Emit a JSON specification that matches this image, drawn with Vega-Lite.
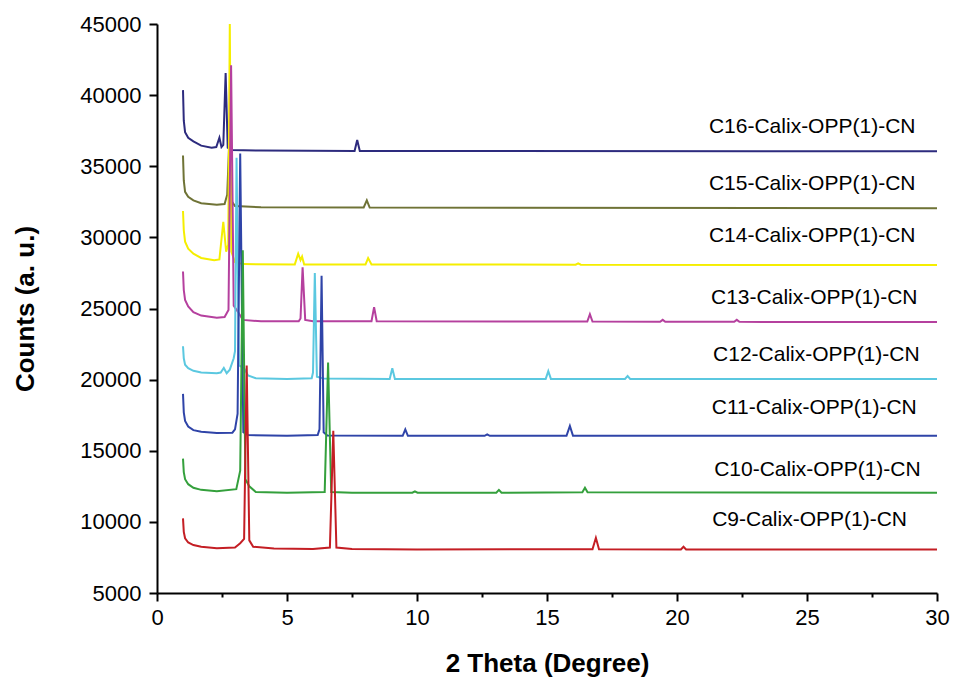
{
  "$schema": "https://vega.github.io/schema/vega-lite/v6.json",
  "width": 780,
  "height": 569,
  "autosize": {"type": "none"},
  "padding": {"left": 157, "top": 24, "right": 16, "bottom": 86},
  "background": "white",
  "datasets": {
    "curves": [
      {"s": "C16", "x": 1.0, "y": 40350}, {"s": "C16", "x": 1.03, "y": 38200}, {"s": "C16", "x": 1.08, "y": 37400}, {"s": "C16", "x": 1.2, "y": 37000}, {"s": "C16", "x": 1.4, "y": 36750}, {"s": "C16", "x": 1.7, "y": 36450}, {"s": "C16", "x": 2.1, "y": 36300}, {"s": "C16", "x": 2.28, "y": 36350}, {"s": "C16", "x": 2.4, "y": 37000}, {"s": "C16", "x": 2.48, "y": 36350}, {"s": "C16", "x": 2.55, "y": 36500}, {"s": "C16", "x": 2.64, "y": 41550}, {"s": "C16", "x": 2.72, "y": 36300}, {"s": "C16", "x": 2.85, "y": 36150}, {"s": "C16", "x": 4.0, "y": 36100}, {"s": "C16", "x": 7.6, "y": 36080}, {"s": "C16", "x": 7.7, "y": 36850}, {"s": "C16", "x": 7.8, "y": 36080}, {"s": "C16", "x": 30, "y": 36050},

      {"s": "C15", "x": 1.0, "y": 35750}, {"s": "C15", "x": 1.03, "y": 34000}, {"s": "C15", "x": 1.08, "y": 33200}, {"s": "C15", "x": 1.2, "y": 32850}, {"s": "C15", "x": 1.4, "y": 32600}, {"s": "C15", "x": 1.7, "y": 32400}, {"s": "C15", "x": 2.3, "y": 32300}, {"s": "C15", "x": 2.6, "y": 32350}, {"s": "C15", "x": 2.7, "y": 33000}, {"s": "C15", "x": 2.77, "y": 36300}, {"s": "C15", "x": 2.85, "y": 32600}, {"s": "C15", "x": 3.0, "y": 32200}, {"s": "C15", "x": 4.0, "y": 32120}, {"s": "C15", "x": 7.95, "y": 32100}, {"s": "C15", "x": 8.07, "y": 32600}, {"s": "C15", "x": 8.18, "y": 32100}, {"s": "C15", "x": 30, "y": 32050},

      {"s": "C14", "x": 1.0, "y": 31850}, {"s": "C14", "x": 1.03, "y": 30500}, {"s": "C14", "x": 1.08, "y": 29700}, {"s": "C14", "x": 1.2, "y": 29200}, {"s": "C14", "x": 1.4, "y": 28850}, {"s": "C14", "x": 1.7, "y": 28550}, {"s": "C14", "x": 2.2, "y": 28400}, {"s": "C14", "x": 2.4, "y": 28450}, {"s": "C14", "x": 2.55, "y": 31100}, {"s": "C14", "x": 2.66, "y": 29000}, {"s": "C14", "x": 2.74, "y": 29500}, {"s": "C14", "x": 2.8, "y": 45000}, {"s": "C14", "x": 2.86, "y": 29000}, {"s": "C14", "x": 3.0, "y": 28250}, {"s": "C14", "x": 3.3, "y": 28120}, {"s": "C14", "x": 5.3, "y": 28100}, {"s": "C14", "x": 5.43, "y": 28850}, {"s": "C14", "x": 5.52, "y": 28400}, {"s": "C14", "x": 5.58, "y": 28650}, {"s": "C14", "x": 5.66, "y": 28100}, {"s": "C14", "x": 8.02, "y": 28100}, {"s": "C14", "x": 8.12, "y": 28550}, {"s": "C14", "x": 8.25, "y": 28100}, {"s": "C14", "x": 16.1, "y": 28080}, {"s": "C14", "x": 16.2, "y": 28180}, {"s": "C14", "x": 16.3, "y": 28080}, {"s": "C14", "x": 30, "y": 28050},

      {"s": "C13", "x": 1.0, "y": 27600}, {"s": "C13", "x": 1.03, "y": 26300}, {"s": "C13", "x": 1.08, "y": 25600}, {"s": "C13", "x": 1.2, "y": 25150}, {"s": "C13", "x": 1.4, "y": 24750}, {"s": "C13", "x": 1.7, "y": 24500}, {"s": "C13", "x": 2.3, "y": 24350}, {"s": "C13", "x": 2.6, "y": 24400}, {"s": "C13", "x": 2.75, "y": 24900}, {"s": "C13", "x": 2.85, "y": 42100}, {"s": "C13", "x": 2.95, "y": 25200}, {"s": "C13", "x": 3.1, "y": 24800}, {"s": "C13", "x": 3.3, "y": 24200}, {"s": "C13", "x": 4.0, "y": 24100}, {"s": "C13", "x": 5.45, "y": 24100}, {"s": "C13", "x": 5.52, "y": 24300}, {"s": "C13", "x": 5.6, "y": 27900}, {"s": "C13", "x": 5.7, "y": 24200}, {"s": "C13", "x": 6.0, "y": 24100}, {"s": "C13", "x": 8.25, "y": 24100}, {"s": "C13", "x": 8.35, "y": 25100}, {"s": "C13", "x": 8.45, "y": 24100}, {"s": "C13", "x": 16.55, "y": 24080}, {"s": "C13", "x": 16.65, "y": 24600}, {"s": "C13", "x": 16.75, "y": 24080}, {"s": "C13", "x": 19.35, "y": 24060}, {"s": "C13", "x": 19.45, "y": 24200}, {"s": "C13", "x": 19.55, "y": 24060}, {"s": "C13", "x": 22.2, "y": 24060}, {"s": "C13", "x": 22.3, "y": 24200}, {"s": "C13", "x": 22.4, "y": 24060}, {"s": "C13", "x": 30, "y": 24050},

      {"s": "C12", "x": 1.0, "y": 22350}, {"s": "C12", "x": 1.03, "y": 21500}, {"s": "C12", "x": 1.08, "y": 21050}, {"s": "C12", "x": 1.2, "y": 20800}, {"s": "C12", "x": 1.4, "y": 20620}, {"s": "C12", "x": 1.7, "y": 20500}, {"s": "C12", "x": 2.3, "y": 20450}, {"s": "C12", "x": 2.45, "y": 20500}, {"s": "C12", "x": 2.57, "y": 20820}, {"s": "C12", "x": 2.68, "y": 20450}, {"s": "C12", "x": 2.8, "y": 20700}, {"s": "C12", "x": 2.95, "y": 21500}, {"s": "C12", "x": 3.0, "y": 22000}, {"s": "C12", "x": 3.06, "y": 35600}, {"s": "C12", "x": 3.15, "y": 21000}, {"s": "C12", "x": 3.35, "y": 20800}, {"s": "C12", "x": 3.5, "y": 20300}, {"s": "C12", "x": 3.8, "y": 20100}, {"s": "C12", "x": 5.0, "y": 20050}, {"s": "C12", "x": 5.95, "y": 20100}, {"s": "C12", "x": 6.0, "y": 20500}, {"s": "C12", "x": 6.07, "y": 27500}, {"s": "C12", "x": 6.15, "y": 20200}, {"s": "C12", "x": 6.4, "y": 20080}, {"s": "C12", "x": 8.95, "y": 20050}, {"s": "C12", "x": 9.05, "y": 20800}, {"s": "C12", "x": 9.15, "y": 20050}, {"s": "C12", "x": 14.95, "y": 20050}, {"s": "C12", "x": 15.05, "y": 20600}, {"s": "C12", "x": 15.15, "y": 20050}, {"s": "C12", "x": 18.0, "y": 20050}, {"s": "C12", "x": 18.1, "y": 20250}, {"s": "C12", "x": 18.2, "y": 20050}, {"s": "C12", "x": 30, "y": 20050},

      {"s": "C11", "x": 1.0, "y": 19000}, {"s": "C11", "x": 1.03, "y": 17700}, {"s": "C11", "x": 1.08, "y": 17100}, {"s": "C11", "x": 1.2, "y": 16700}, {"s": "C11", "x": 1.4, "y": 16450}, {"s": "C11", "x": 1.7, "y": 16330}, {"s": "C11", "x": 2.3, "y": 16250}, {"s": "C11", "x": 2.9, "y": 16270}, {"s": "C11", "x": 3.0, "y": 16500}, {"s": "C11", "x": 3.1, "y": 17600}, {"s": "C11", "x": 3.2, "y": 35900}, {"s": "C11", "x": 3.32, "y": 16300}, {"s": "C11", "x": 3.5, "y": 16100}, {"s": "C11", "x": 5.0, "y": 16050}, {"s": "C11", "x": 6.18, "y": 16100}, {"s": "C11", "x": 6.25, "y": 16500}, {"s": "C11", "x": 6.33, "y": 27300}, {"s": "C11", "x": 6.41, "y": 16300}, {"s": "C11", "x": 6.55, "y": 16080}, {"s": "C11", "x": 9.45, "y": 16050}, {"s": "C11", "x": 9.55, "y": 16500}, {"s": "C11", "x": 9.65, "y": 16050}, {"s": "C11", "x": 12.6, "y": 16050}, {"s": "C11", "x": 12.7, "y": 16150}, {"s": "C11", "x": 12.8, "y": 16050}, {"s": "C11", "x": 15.75, "y": 16050}, {"s": "C11", "x": 15.88, "y": 16750}, {"s": "C11", "x": 16.0, "y": 16050}, {"s": "C11", "x": 30, "y": 16050},

      {"s": "C10", "x": 1.0, "y": 14450}, {"s": "C10", "x": 1.03, "y": 13500}, {"s": "C10", "x": 1.08, "y": 13000}, {"s": "C10", "x": 1.2, "y": 12650}, {"s": "C10", "x": 1.4, "y": 12400}, {"s": "C10", "x": 1.7, "y": 12250}, {"s": "C10", "x": 2.3, "y": 12150}, {"s": "C10", "x": 3.05, "y": 12300}, {"s": "C10", "x": 3.2, "y": 13600}, {"s": "C10", "x": 3.3, "y": 29100}, {"s": "C10", "x": 3.4, "y": 13000}, {"s": "C10", "x": 3.55, "y": 12500}, {"s": "C10", "x": 3.8, "y": 12100}, {"s": "C10", "x": 5.0, "y": 12050}, {"s": "C10", "x": 6.45, "y": 12100}, {"s": "C10", "x": 6.58, "y": 21200}, {"s": "C10", "x": 6.7, "y": 12100}, {"s": "C10", "x": 7.5, "y": 12050}, {"s": "C10", "x": 9.82, "y": 12050}, {"s": "C10", "x": 9.92, "y": 12150}, {"s": "C10", "x": 10.02, "y": 12050}, {"s": "C10", "x": 13.05, "y": 12050}, {"s": "C10", "x": 13.15, "y": 12250}, {"s": "C10", "x": 13.25, "y": 12050}, {"s": "C10", "x": 16.36, "y": 12080}, {"s": "C10", "x": 16.46, "y": 12400}, {"s": "C10", "x": 16.56, "y": 12080}, {"s": "C10", "x": 30, "y": 12050},

      {"s": "C9", "x": 1.0, "y": 10250}, {"s": "C9", "x": 1.03, "y": 9300}, {"s": "C9", "x": 1.08, "y": 8850}, {"s": "C9", "x": 1.2, "y": 8550}, {"s": "C9", "x": 1.4, "y": 8370}, {"s": "C9", "x": 1.7, "y": 8250}, {"s": "C9", "x": 2.3, "y": 8150}, {"s": "C9", "x": 3.0, "y": 8200}, {"s": "C9", "x": 3.2, "y": 8500}, {"s": "C9", "x": 3.35, "y": 8800}, {"s": "C9", "x": 3.45, "y": 21000}, {"s": "C9", "x": 3.55, "y": 8700}, {"s": "C9", "x": 3.7, "y": 8250}, {"s": "C9", "x": 4.5, "y": 8120}, {"s": "C9", "x": 6.0, "y": 8100}, {"s": "C9", "x": 6.65, "y": 8200}, {"s": "C9", "x": 6.78, "y": 16400}, {"s": "C9", "x": 6.9, "y": 8200}, {"s": "C9", "x": 7.5, "y": 8100}, {"s": "C9", "x": 10.0, "y": 8060}, {"s": "C9", "x": 16.75, "y": 8080}, {"s": "C9", "x": 16.88, "y": 8880}, {"s": "C9", "x": 17.0, "y": 8080}, {"s": "C9", "x": 20.15, "y": 8060}, {"s": "C9", "x": 20.25, "y": 8250}, {"s": "C9", "x": 20.35, "y": 8060}, {"s": "C9", "x": 30, "y": 8050}
    ],
    "labels": [
      {"label": "C16-Calix-OPP(1)-CN", "x": 25.2, "y": 37760},
      {"label": "C15-Calix-OPP(1)-CN", "x": 25.2, "y": 33750},
      {"label": "C14-Calix-OPP(1)-CN", "x": 25.2, "y": 30100},
      {"label": "C13-Calix-OPP(1)-CN", "x": 25.28, "y": 25740},
      {"label": "C12-Calix-OPP(1)-CN", "x": 25.36, "y": 21730},
      {"label": "C11-Calix-OPP(1)-CN", "x": 25.28, "y": 18000},
      {"label": "C10-Calix-OPP(1)-CN", "x": 25.4, "y": 13650},
      {"label": "C9-Calix-OPP(1)-CN", "x": 25.1, "y": 10130}
    ]
  },
  "layer": [
    {
      "data": {"name": "curves"},
      "mark": {"type": "line", "strokeWidth": 2, "clip": true, "interpolate": "linear"},
      "encoding": {
        "x": {
          "field": "x", "type": "quantitative",
          "scale": {"domain": [0, 30], "nice": false, "zero": false},
          "axis": {
            "title": "2 Theta (Degree)",
            "values": [0, 2.5, 5, 7.5, 10, 12.5, 15, 17.5, 20, 22.5, 25, 27.5, 30],
            "labelExpr": "datum.value % 5 === 0 ? datum.label : ''",
            "tickSize": {"condition": {"test": "datum.value % 5 === 0", "value": 8}, "value": 4},
            "labelPadding": 6,
            "titlePadding": 22,
            "labelFlush": false,
            "labelOverlap": false
          }
        },
        "y": {
          "field": "y", "type": "quantitative",
          "scale": {"domain": [5000, 45000], "nice": false, "zero": false},
          "axis": {
            "title": "Counts (a. u.)",
            "format": "d",
            "values": [5000, 7500, 10000, 12500, 15000, 17500, 20000, 22500, 25000, 27500, 30000, 32500, 35000, 37500, 40000, 42500, 45000],
            "labelExpr": "datum.value % 5000 === 0 ? datum.label : ''",
            "tickSize": {"condition": {"test": "datum.value % 5000 === 0", "value": 8}, "value": 4},
            "labelPadding": 8,
            "titlePadding": 41,
            "labelFlush": false,
            "labelOverlap": false
          }
        },
        "color": {
          "field": "s", "type": "nominal", "legend": null,
          "scale": {
            "domain": ["C16", "C15", "C14", "C13", "C12", "C11", "C10", "C9"],
            "range": ["#2d2b7e", "#6f7336", "#f5ee00", "#b5409e", "#5bc8e0", "#2f44a8", "#34a03c", "#c41e24"]
          }
        }
      }
    },
    {
      "data": {"name": "labels"},
      "mark": {"type": "text", "font": "Liberation Sans", "fontSize": 21, "color": "black", "align": "center", "baseline": "middle"},
      "encoding": {
        "x": {"field": "x", "type": "quantitative"},
        "y": {"field": "y", "type": "quantitative"},
        "text": {"field": "label", "type": "nominal"}
      }
    }
  ],
  "config": {
    "view": {"stroke": null},
    "axis": {
      "grid": false,
      "domainColor": "black",
      "domainWidth": 2,
      "tickColor": "black",
      "tickWidth": 2,
      "labelColor": "black",
      "labelFont": "Liberation Sans",
      "labelFontSize": 22,
      "titleFont": "Liberation Sans",
      "titleFontSize": 26,
      "titleFontWeight": "bold",
      "titleColor": "black"
    }
  }
}
